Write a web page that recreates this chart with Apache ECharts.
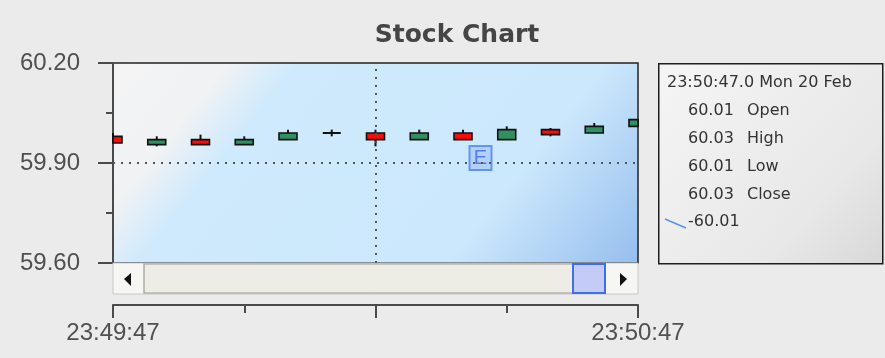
<!DOCTYPE html>
<html>
<head>
<meta charset="utf-8">
<script src="https://cdn.jsdelivr.net/npm/echarts@6/dist/echarts.min.js"></script>
<style>
html,body{margin:0;padding:0;background:#ebebeb;}
#chart{width:885px;height:358px;}
</style>
</head>
<body>
<div id="chart"></div>
<script>
// ---- data (seconds after 23:49:47) ----
const seconds = [0, 5, 10, 15, 20, 25, 30, 35, 40, 45, 50, 55, 60];
const openVals  = [59.98, 59.955, 59.97, 59.955, 59.97, 59.99, 59.99, 59.97, 59.99, 59.97, 60.00, 59.99, 60.01];
const closeVals = [59.96, 59.97, 59.955, 59.97, 59.99, 59.99, 59.97, 59.99, 59.97, 60.00, 59.985, 60.01, 60.03];
const lowVals   = [59.96, 59.95, 59.955, 59.955, 59.97, 59.98, 59.95, 59.97, 59.97, 59.97, 59.98, 59.99, 60.01];
const highVals  = [59.99, 59.98, 59.985, 59.98, 60.00, 60.00, 60.00, 60.00, 60.00, 60.01, 60.005, 60.02, 60.03];

const xTickLabels = {0: '23:49:47', 60: '23:50:47'};
const yTickValues = [59.60, 59.90, 60.20];

const crossX = [30];
const crossY = [59.90];

const eventX = [42];
const eventY = [59.915];
const eventLabels = ['E'];

const legendHeader = '23:50:47.0 Mon 20 Feb';
const legendNames = ['Open', 'High', 'Low', 'Close'];
const legendValues = ['60.01', '60.03', '60.01', '60.03'];
const legendLineValue = '-60.01';

// ---- build ----
const candleData = seconds.map((s, i) => [s, openVals[i], closeVals[i], lowVals[i], highVals[i]]);
const FONT = 'Liberation Sans, Arial, sans-serif';
const LFONT = 'DejaVu Sans, sans-serif';
const UP = '#2f9162', DOWN = '#ff0a0a', EDGE = '#111';
const BODY_W = 18;

function renderCandle(params, api) {
  const x = api.value(0), o = api.value(1), c = api.value(2), l = api.value(3), h = api.value(4);
  const pO = api.coord([x, o]), pC = api.coord([x, c]);
  const pL = api.coord([x, l]), pH = api.coord([x, h]);
  const cs = params.coordSys;
  const top = Math.min(pO[1], pC[1]), bot = Math.max(pO[1], pC[1]);
  const children = [];
  if (pH[1] < pL[1]) {
    children.push({type: 'line', shape: {x1: pO[0], y1: pH[1], x2: pO[0], y2: pL[1]},
      style: {stroke: EDGE, lineWidth: 2}});
  }
  const cx0 = Math.max(pO[0] - BODY_W / 2, cs.x), cx1 = Math.min(pO[0] + BODY_W / 2, cs.x + cs.width);
  if (bot - top < 1) {
    children.push({type: 'line', shape: {x1: cx0, y1: top, x2: cx1, y2: top},
      style: {stroke: EDGE, lineWidth: 2}});
  } else {
    const rect = echarts.graphic.clipRectByRect(
      {x: pO[0] - BODY_W / 2, y: top, width: BODY_W, height: bot - top},
      {x: cs.x, y: cs.y, width: cs.width, height: cs.height});
    if (rect) {
      children.push({type: 'rect', shape: rect,
        style: {fill: c > o ? UP : DOWN, stroke: EDGE, lineWidth: 1.6}});
    }
  }
  return {type: 'group', children: children};
}

const chart = echarts.init(document.getElementById('chart'), null, {renderer: 'canvas'});

const legendGraphics = [
  {
    type: 'rect', left: 658, top: 63, z: 10,
    shape: {width: 224, height: 200},
    style: {
      fill: new echarts.graphic.LinearGradient(0, 0, 1, 1, [
        {offset: 0, color: '#f5f5f5'}, {offset: 0.7, color: '#e8e8e8'}, {offset: 1, color: '#d8d8d8'}
      ]),
      stroke: '#1e1e1e', lineWidth: 1.5
    }
  },
  {type: 'text', left: 667, top: 75, z: 11,
   style: {text: legendHeader, font: '16px ' + LFONT, fill: '#333'}}
];
legendNames.forEach((n, i) => {
  legendGraphics.push({type: 'text', left: 688, top: 103 + i * 28, z: 11,
    style: {text: legendValues[i], font: '16px ' + LFONT, fill: '#333'}});
  legendGraphics.push({type: 'text', left: 747, top: 103 + i * 28, z: 11,
    style: {text: n, font: '16px ' + LFONT, fill: '#333'}});
});
legendGraphics.push({type: 'line', z: 11, shape: {x1: 665, y1: 219, x2: 686, y2: 228},
  style: {stroke: '#5b8ff0', lineWidth: 1.5}});
legendGraphics.push({type: 'text', left: 688, top: 214, z: 11,
  style: {text: legendLineValue, font: '16px ' + LFONT, fill: '#333'}});

const scrollGraphics = [
  {type: 'rect', shape: {x: 113, y: 263, width: 525, height: 31}, z: 5,
   style: {fill: '#f6f6f2', stroke: '#c8c8c8', lineWidth: 1}},
  {type: 'rect', shape: {x: 144, y: 264, width: 429, height: 29}, z: 6,
   style: {fill: '#eeede5', stroke: '#9a9a9a', lineWidth: 1.2}},
  {type: 'polygon', shape: {points: [[124, 279], [131, 273], [131, 286]]}, z: 7,
   style: {fill: '#111'}},
  {type: 'polygon', shape: {points: [[627, 279], [620, 273], [620, 286]]}, z: 7,
   style: {fill: '#111'}},
  {type: 'rect', shape: {x: 573, y: 264, width: 32, height: 29}, z: 7,
   style: {fill: '#c4cbf6', stroke: '#3d6fef', lineWidth: 2}}
];

const option = {
  backgroundColor: '#ebebeb',
  animation: false,
  title: {
    text: 'Stock Chart', left: 452, top: 18, textAlign: 'center',
    textStyle: {fontFamily: 'DejaVu Sans', fontWeight: 'bold', fontSize: 25, color: '#454545'}
  },
  grid: {
    left: 113, top: 63, width: 525, height: 200,
    show: true, borderColor: '#222', borderWidth: 1.5,
    backgroundColor: new echarts.graphic.LinearGradient(113, 63, 531, 397, [
      {offset: 0, color: '#f4f4f4'},
      {offset: 0.17, color: '#f0f2f4'},
      {offset: 0.27, color: '#cfeafd'},
      {offset: 0.72, color: '#cce8fc'},
      {offset: 0.82, color: '#b9d9f7'},
      {offset: 1, color: '#96bfee'}
    ], true)
  },
  xAxis: {
    type: 'value', min: 0, max: 60, interval: 30, offset: 42,
    axisLine: {show: true, lineStyle: {color: '#4a4a4a', width: 2}},
    axisTick: {show: true, length: 13, lineStyle: {color: '#4a4a4a', width: 2}},
    minorTick: {show: true, splitNumber: 2, length: 8, lineStyle: {color: '#4a4a4a', width: 2}},
    splitLine: {show: false},
    axisLabel: {
      margin: 16, fontFamily: FONT, fontSize: 24, color: '#505050',
      formatter: v => xTickLabels[v] || ''
    }
  },
  yAxis: {
    type: 'value', min: 59.60, max: 60.20, interval: 0.30, offset: 8,
    axisLine: {show: true, lineStyle: {color: '#4a4a4a', width: 2}},
    axisTick: {show: true, length: 15, lineStyle: {color: '#4a4a4a', width: 2}},
    minorTick: {show: true, splitNumber: 2, length: 7, lineStyle: {color: '#4a4a4a', width: 2}},
    splitLine: {show: false},
    axisLabel: {
      margin: 25, fontFamily: FONT, fontSize: 24, color: '#505050',
      formatter: v => {
        const t = yTickValues.find(y => Math.abs(y - v) < 1e-6);
        return t !== undefined ? t.toFixed(2) : '';
      }
    }
  },
  series: [
    {
      type: 'custom',
      data: candleData,
      encode: {x: 0, y: [1, 2, 3, 4]},
      renderItem: renderCandle,
      z: 3,
      markLine: {
        silent: true, symbol: 'none', label: {show: false},
        lineStyle: {color: '#555', type: [2, 6], width: 2},
        data: crossX.map(v => ({xAxis: v})).concat(crossY.map(v => ({yAxis: v})))
      }
    },
    {
      type: 'scatter',
      data: eventX.map((x, i) => [x, eventY[i]]),
      symbol: 'rect', symbolSize: [22, 24],
      itemStyle: {color: 'rgba(160,195,250,0.75)', borderColor: '#4a7ff2', borderWidth: 2},
      label: {
        show: true, position: 'inside', color: '#3a66e6', fontSize: 20, fontFamily: FONT,
        formatter: p => eventLabels[p.dataIndex]
      },
      z: 4
    }
  ],
  graphic: scrollGraphics.concat(legendGraphics)
};
chart.setOption(option);
</script>
</body>
</html>
